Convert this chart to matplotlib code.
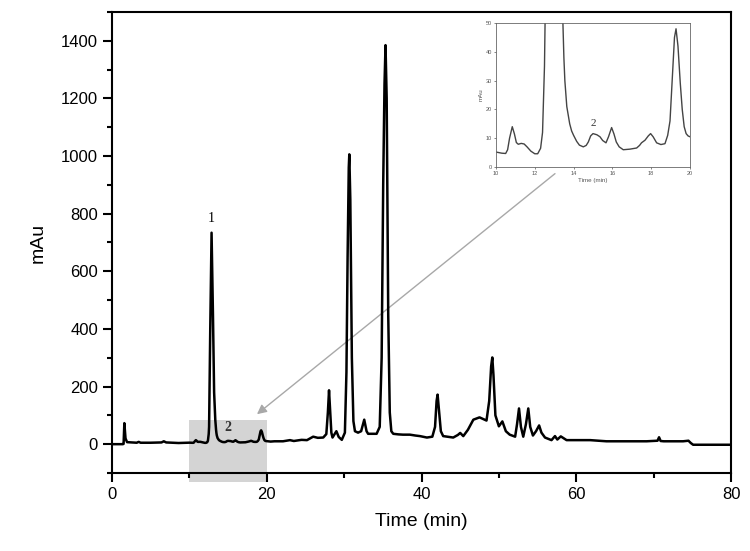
import matplotlib
matplotlib.use("Agg")
import matplotlib.pyplot as plt
from matplotlib.patches import Rectangle
from matplotlib.ticker import MultipleLocator

# chromatogram (min, mAu)
time = [0.0, 1.4, 1.5, 1.6, 1.75, 1.95, 2.5, 3.2, 3.45, 3.7, 5.0, 6.4, 6.7, 7.0,
        8.6, 9.5,
        10.0, 10.3, 10.5, 10.6, 10.7, 10.84, 10.95, 11.05, 11.15, 11.3, 11.45,
        11.6, 11.8, 12.0, 12.15, 12.3, 12.4, 12.5, 12.55, 12.7, 12.87, 13.05,
        13.2, 13.35, 13.45, 13.5, 13.55, 13.65, 13.8, 13.9, 14.0, 14.16, 14.3,
        14.5, 14.65, 14.76, 14.88, 15.0, 15.2, 15.36, 15.5, 15.67, 15.8, 15.96,
        16.08, 16.2, 16.35, 16.56, 16.9, 17.25, 17.4, 17.5, 17.68, 17.85, 17.97,
        18.1, 18.28, 18.5, 18.71, 18.85, 18.97, 19.1, 19.2, 19.28, 19.38, 19.5,
        19.6, 19.7, 19.8, 19.9, 20.0,
        20.5, 21.0, 22.1, 23.0, 23.5, 24.5, 25.2, 26.0, 26.6, 27.3, 27.7, 27.9,
        28.05, 28.2, 28.35, 28.5, 29.0, 29.3, 29.7, 30.1, 30.3, 30.45, 30.6,
        30.67, 30.8, 31.0, 31.2, 31.4, 31.8, 32.2, 32.45, 32.6, 32.75, 32.9,
        33.1, 34.2, 34.6, 34.85, 35.05, 35.22, 35.35, 35.5, 35.7, 35.9, 36.1,
        36.35, 37.0, 37.6, 38.5, 39.2, 39.8, 40.7, 41.4, 41.75, 41.95, 42.08,
        42.25, 42.5, 42.8, 44.1, 44.7, 45.0, 45.4, 46.0, 46.7, 47.5, 48.4,
        48.75, 49.0, 49.15, 49.3, 49.55, 50.0, 50.45, 50.9, 51.4, 52.1, 52.35,
        52.6, 52.85, 53.15, 53.5, 53.8, 54.05, 54.4, 54.8, 55.2, 55.5, 55.96,
        56.8, 57.25, 57.55, 58.0, 58.75, 61.8, 63.9, 69.1, 70.5, 70.7, 70.9,
        71.3, 73.8, 74.5, 74.8, 75.1, 80.0]
signal = [0, 0, 1, 73, 20, 7, 6, 5, 8, 5, 5, 6, 10, 6,
          4, 5,
          5.2, 4.8, 4.7, 6, 10, 14, 11.5, 8.5, 7.9, 8.2, 8.0,
          7, 5.5, 4.6, 4.6, 6.5, 12, 35, 60, 400, 734, 450,
          180, 85, 50, 38, 30, 21, 15, 12.5, 11, 8.9, 7.6,
          7, 7.5, 8.7, 10.8, 11.6, 11.2, 10.5, 9.2, 8.4, 10.5, 13.7,
          11.5, 8.7, 7, 6, 6.2, 6.6, 7.5, 8.4, 9.3, 10.8, 11.6,
          10.5, 8.4, 7.8, 8.1, 11, 16, 32, 45, 48, 42, 29,
          20, 14, 11.6, 10.8, 10.5,
          9, 10, 10, 14, 11, 15, 14, 26, 22, 23, 35, 110,
          187, 110, 40, 23, 45, 25, 15, 40, 250, 650, 960,
          1006, 850, 300, 80, 45, 40, 45, 70, 85, 65, 45,
          36, 36, 60, 300, 900, 1250, 1385, 1200, 450, 110, 45,
          36, 34, 33, 33, 30, 28, 23, 26, 60, 150, 172,
          120, 45, 28, 23, 32, 39, 28, 50, 85, 93, 82,
          150, 270, 301, 240, 100, 62, 79, 45, 33, 26, 70,
          124, 60, 26, 70, 124, 60, 30, 45, 65, 40, 23,
          14, 28, 16, 27, 14, 14, 10, 10, 12, 24, 11,
          10, 10, 12, 4, -2, -2]

xticks = [0, 20, 40, 60, 80]
yticks = [0, 200, 400, 600, 800, 1000, 1200, 1400]
inset_xticks = [10, 12, 14, 16, 18, 20]
inset_yticks = [0, 10, 20, 30, 40, 50]

plt.rcParams['font.family'] = ['Liberation Sans', 'DejaVu Sans']

fig = plt.figure(figsize=(7.5, 5.51), dpi=100)
ax = fig.add_axes([0.1493, 0.1416, 0.8254, 0.8366])

# shaded zoom window
ax.add_patch(Rectangle((10, -130), 10, 215, facecolor='#d4d4d4',
                       edgecolor='none', clip_on=False, zorder=1))
ax.plot(time, signal, color='black', lw=1.8, zorder=3)

ax.set_xlim(0, 80)
ax.set_ylim(-100, 1500)
ax.set_xticks(xticks)
ax.set_yticks(yticks)
ax.xaxis.set_minor_locator(MultipleLocator(10))
ax.yaxis.set_minor_locator(MultipleLocator(100))
ax.tick_params(which='major', direction='out', length=6.5, width=1.5,
               labelsize=12, top=False, right=False)
ax.tick_params(which='minor', direction='out', length=3.5, width=1.5,
               top=False, right=False)
for s in ax.spines.values():
    s.set_linewidth(1.5)
ax.set_xlabel('Time (min)', fontsize=14, labelpad=8)
ax.set_ylabel('mAu', fontsize=14, labelpad=10)

ax.text(12.87, 760, '1', family=['Liberation Serif'], fontsize=10,
        ha='center', va='bottom')
ax.text(15.0, 35, '2', family=['Liberation Serif'], fontsize=10,
        ha='center', va='bottom', fontweight='bold', color='#333333')

ax.annotate('', xy=(18.74, 104), xytext=(57.25, 939),
            arrowprops=dict(arrowstyle='-|>', color='#a8a8a8', lw=1.0,
                            mutation_scale=14, shrinkA=0, shrinkB=0),
            zorder=2)

# inset: 10-20 min
ins = fig.add_axes([0.6613, 0.6969, 0.2587, 0.2613])
ins.plot(time, signal, color='#444444', lw=1.0)
ins.set_xlim(10, 20)
ins.set_ylim(0, 50)
ins.set_xticks(inset_xticks)
ins.set_yticks(inset_yticks)
ins.tick_params(direction='out', length=1.5, width=0.5, labelsize=4,
                colors='#555555', pad=1.5)
for s in ins.spines.values():
    s.set_linewidth(0.6)
    s.set_color('#666666')
ins.set_xlabel('Time (min)', fontsize=4.5, color='#555555', labelpad=1.5)
ins.set_ylabel('mAu', fontsize=4.5, color='#555555', labelpad=1.5)
ins.text(15.0, 13.5, '2', family=['Liberation Serif'], fontsize=8,
         ha='center', va='bottom', color='#333333')

fig.savefig('out.png', dpi=100)
